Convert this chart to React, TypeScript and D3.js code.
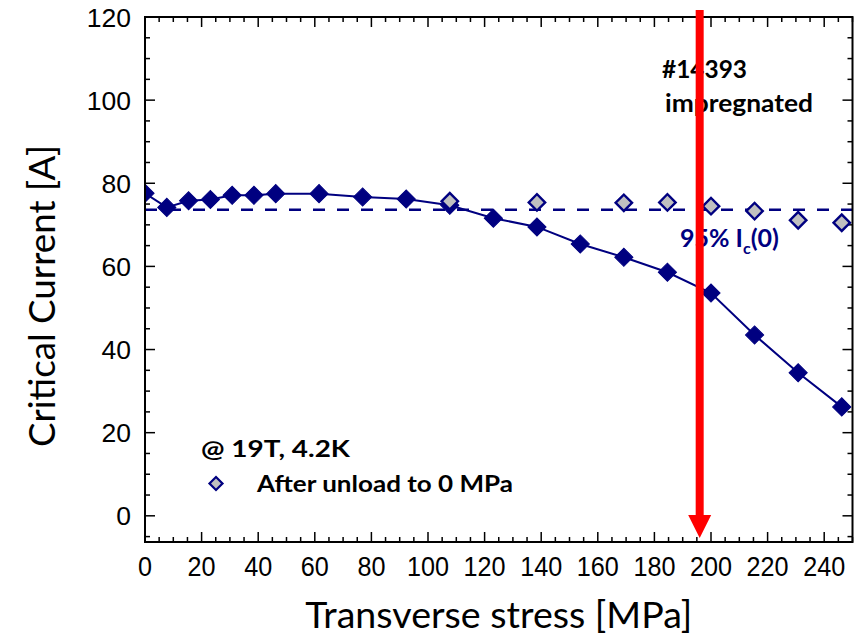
import React from "react";
import * as d3 from "d3";

// Main series: critical current under transverse stress
const stress = [0, 7.7, 15.4, 23.1, 30.8, 38.5, 46.2, 61.5, 76.9, 92.3, 107.7, 123.1, 138.5, 153.8, 169.2, 184.6, 200, 215.4, 230.8, 246.2];
const current = [77.6, 74.2, 75.8, 76.1, 77.1, 77.1, 77.5, 77.5, 76.7, 76.2, 74.7, 71.6, 69.5, 65.4, 62.2, 58.6, 53.6, 43.5, 34.4, 26.2];
// After unload to 0 MPa
const unloadStress = [107.7, 138.5, 169.2, 184.6, 200, 215.4, 230.8, 246.2];
const unloadCurrent = [75.7, 75.4, 75.3, 75.4, 74.5, 73.3, 71.1, 70.5];
// 95% Ic(0) reference level and limit arrow
const ic95 = 73.6;
const arrowStress = 196;
const xTicks = [0, 20, 40, 60, 80, 100, 120, 140, 160, 180, 200, 220, 240];
const yTicks = [0, 20, 40, 60, 80, 100, 120];

const W = 862, H = 643;
const L = 145, R = 852.5, T = 17, B = 542;
const NAVY = "#000080";
const FONT = "Lato, 'Noto Sans', sans-serif";
const NUMFONT = "'Liberation Sans', Arial, sans-serif";

export default function App() {
  const x = d3.scaleLinear().domain([0, 250]).range([L, R]);
  const y = d3.scaleLinear().domain([-6.3, 120]).range([B, T]);

  const xMinor = d3.range(0, 251, 5);
  const yMinor = d3.range(-5, 121, 5);

  const line = d3.line<number>().x((_, i) => x(stress[i])).y((d) => y(d));
  const sq = (area: number) => d3.symbol(d3.symbolSquare, area)() as string;
  const filledPath = sq(165);
  const grayPath = sq(135);
  const legendPath = sq(85);

  const ax = x(arrowStress);

  return (
    <svg width={W} height={H} style={{ position: "absolute", left: 0, top: 0, background: "#fff" }}>
      <defs>
        <clipPath id="plotClip">
          <rect x={L} y={T} width={R - L} height={B - T} />
        </clipPath>
      </defs>
      <rect x={0} y={0} width={W} height={H} fill="#fff" />

      {/* ticks (inside, all sides) */}
      <g stroke="#000" strokeWidth={1.5}>
        {xMinor.map((v) => {
          const len = v % 20 === 0 ? 10 : 5;
          return (
            <g key={"x" + v}>
              <line x1={x(v)} x2={x(v)} y1={B} y2={B - len} />
              <line x1={x(v)} x2={x(v)} y1={T} y2={T + len} />
            </g>
          );
        })}
        {yMinor.map((v) => {
          const len = v % 20 === 0 ? 10 : 5;
          return (
            <g key={"y" + v}>
              <line x1={L} x2={L + len} y1={y(v)} y2={y(v)} />
              <line x1={R} x2={R - len} y1={y(v)} y2={y(v)} />
            </g>
          );
        })}
      </g>

      {/* tick labels */}
      <g fontFamily={NUMFONT} fill="#000">
        {xTicks.map((v) => (
          <text key={"xl" + v} transform={`translate(${x(v)},576) scale(0.9,1)`} fontSize={28} textAnchor="middle">{v}</text>
        ))}
        {yTicks.map((v) => (
          <text key={"yl" + v} x={131} y={y(v)} dy="0.36em" fontSize={26.5} textAnchor="end">{v}</text>
        ))}
      </g>

      {/* axis titles */}
      <text x={(L + R) / 2} y={628} textAnchor="middle" fontFamily={FONT} fontSize={36}
        textLength={387} lengthAdjust="spacingAndGlyphs" fill="#000">Transverse stress [MPa]</text>
      <text transform={`translate(55,296) rotate(-90)`} textAnchor="middle" fontFamily={FONT} fontSize={36}
        textLength={302} lengthAdjust="spacingAndGlyphs" fill="#000">Critical Current [A]</text>

      <g clipPath="url(#plotClip)">
        {/* 95% level */}
        <line x1={L} x2={R} y1={y(ic95)} y2={y(ic95)} stroke={NAVY} strokeWidth={2.5} strokeDasharray="12,12" />
        {/* main line */}
        <path d={line(current) as string} fill="none" stroke={NAVY} strokeWidth={2} />
        {current.map((v, i) => (
          <path key={"p" + i} d={filledPath} transform={`translate(${x(stress[i])},${y(v)}) rotate(45)`}
            fill={NAVY} stroke={NAVY} strokeWidth={1} />
        ))}
        {unloadCurrent.map((v, i) => (
          <path key={"u" + i} d={grayPath} transform={`translate(${x(unloadStress[i])},${y(v)}) rotate(45)`}
            fill="#c0c0c0" stroke={NAVY} strokeWidth={2.4} />
        ))}
      </g>

      {/* annotations */}
      <g fontFamily={FONT} fontWeight="bold" fill="#000">
        <text x={662} y={78} fontSize={24} textLength={85} lengthAdjust="spacingAndGlyphs">#14393</text>
        <text x={665} y={112} fontSize={24} textLength={148} lengthAdjust="spacingAndGlyphs">impregnated</text>
        <text x={201} y={457} fontSize={23} textLength={149} lengthAdjust="spacingAndGlyphs">@ 19T, 4.2K</text>
        <text x={257} y={492} fontSize={23} textLength={256} lengthAdjust="spacingAndGlyphs">After unload to 0 MPa</text>
      </g>
      <text x={680} y={247} fontFamily={FONT} fontWeight="bold" fontSize={25} fill={NAVY}>
        95% I<tspan fontSize={16} dy={7}>c</tspan><tspan dy={-7}>(0)</tspan>
      </text>
      <path d={legendPath} transform={`translate(216,483.5) rotate(45)`} fill="#c0c0c0" stroke={NAVY} strokeWidth={2.2} />

      {/* frame */}
      <rect x={L} y={T} width={R - L} height={B - T} fill="none" stroke="#000" strokeWidth={2} />

      {/* red arrow */}
      <line x1={ax} x2={ax} y1={10} y2={516} stroke="#ff0000" strokeWidth={8} />
      <path d={`M${ax - 11.5},515 L${ax + 11.5},515 L${ax},538 Z`} fill="#ff0000" />
    </svg>
  );
}
